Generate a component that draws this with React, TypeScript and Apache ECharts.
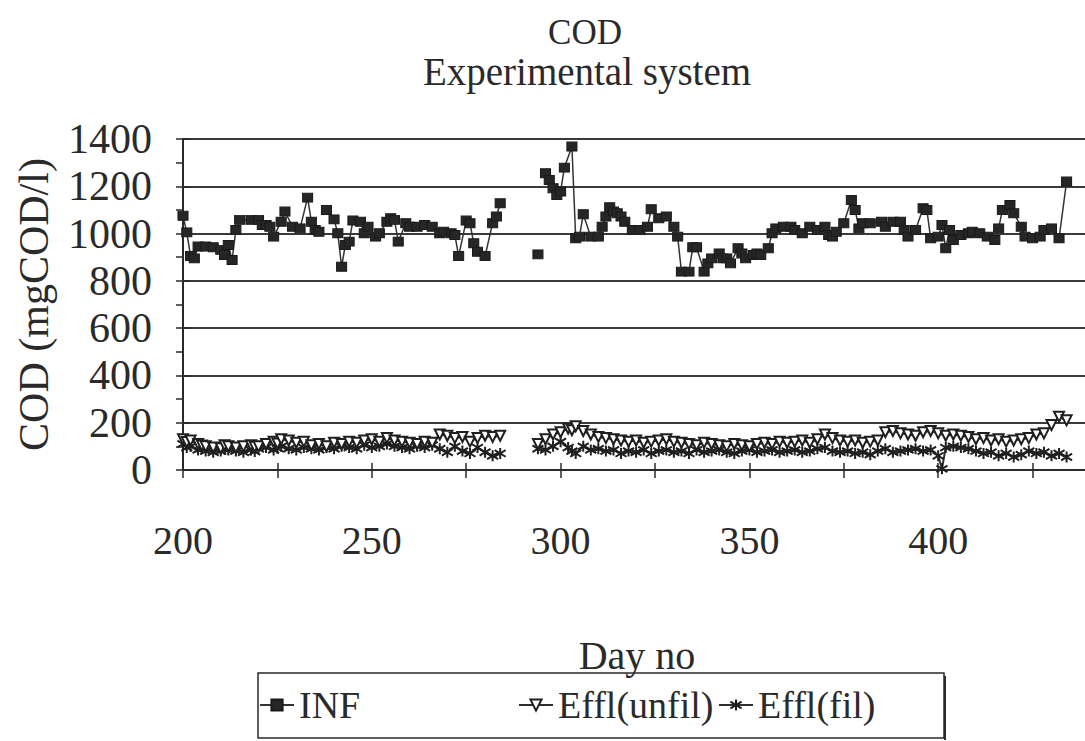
import React, { useEffect, useRef } from "react";
import * as echarts from "echarts";

const FONT = "'Liberation Serif', 'DejaVu Serif', serif";
const INK = "#2a2a2a";

const titleText = "COD";
const subtitleText = "Experimental system";
const xAxisName = "Day no";
const yAxisName = "COD (mgCOD/l)";
const seriesNames = ["INF", "Effl(unfil)", "Effl(fil)"];

// INF (influent) — null marks a break in the line
const infDays = [
  200, 201, 202, 203, 204, 206, 208, 210, 211, 212, 213, 214, 215, 218, 220, 221, 222, 223, 224, 226,
  227, 229, 231, 233, 234, 235, 236, 237, 238, 239, 240, 241, 242, 243, 244, 245, 247, 248, 249, 251,
  252, 254, 255, 256, 257, 259, 260, 262, 264, 266, 268, 269, 271, 272, 273, 275, 276, 277, 278, 280,
  282, 283, 284, 289, 294, 295, 296, 297, 298, 299, 300, 301, 303, 304, 305, 306, 308, 310, 311, 312,
  313, 314, 315, 316, 317, 319, 321, 323, 324, 326, 328, 330, 331, 332, 334, 335, 336, 338, 339, 340,
  342, 343, 344, 345, 347, 348, 349, 351, 352, 353, 355, 356, 357, 359, 361, 362, 364, 366, 368, 370,
  371, 372, 373, 375, 377, 378, 379, 380, 382, 385, 386, 388, 390, 391, 392, 394, 396, 397, 398, 400,
  401, 402, 403, 404, 406, 408, 409, 411, 413, 415, 416, 417, 419, 420, 422, 423, 425, 427, 428, 430,
  432, 434
];
const infValues = [
  1075, 1005, 905, 895, 945, 945, 942, 931, 909, 952, 888, 1015, 1058, 1058, 1058, 1036, 1036, 1029, 987, 1050,
  1093, 1029, 1022, 1152, 1050, 1015, 1008, null, 1100, null, 1060, 1001, 860, 952, 966, 1055, 1050, 1001, 1029, 987,
  1001, 1050, 1065, 1058, 966, 1044, 1029, 1029, 1036, 1029, 1001, 1008, 1001, 994, 905, 1055, 1044, 959, 923, 905,
  1044, 1072, 1128, null, 912, null, 1255, 1227, 1192, 1163, 1178, 1279, 1368, 980, 987, 1082, 987, 987, 1029, 1072,
  1111, 1093, 1086, 1072, 1050, 1015, 1015, 1029, 1103, 1065, 1072, 1029, 987, 839, 839, 942, 942, 839, 874, 895,
  916, 895, 895, 874, 938, 916, 895, 909, 916, 909, 938, 1001, 1022, 1029, 1029, 1015, 1001, 1029, 1015, 1029,
  994, 987, 1008, 1044, 1142, 1100, 1022, 1044, 1044, 1050, 1029, 1050, 1050, 1015, 987, 1015, 1107, 1100, 980, 987,
  1036, 938, 1015, 973, 994, 1001, 1008, 1001, 987, 973, 1022, 1100, 1121, 1086, 1029, 987, 980, 987, 1015, 1022,
  980, 1220
];

// Effluent, unfiltered
const unfilDays = [
  200, 201, 202, 204, 205, 206, 208, 210, 211, 212, 214, 216, 218, 219, 220, 222, 224, 225, 226, 228,
  230, 232, 234, 236, 238, 240, 242, 244, 246, 248, 250, 252, 254, 256, 258, 260, 262, 264, 266, 268,
  270, 272, 274, 276, 278, 280, 282, 284, 289, 294, 296, 298, 300, 302, 303, 304, 306, 308, 310, 312,
  314, 316, 318, 320, 322, 324, 326, 328, 330, 332, 334, 336, 338, 340, 342, 344, 346, 348, 350, 352,
  354, 356, 358, 360, 362, 364, 366, 368, 370, 372, 374, 376, 378, 380, 382, 384, 386, 388, 390, 392,
  394, 396, 398, 400, 402, 404, 406, 408, 410, 412, 414, 416, 418, 420, 422, 424, 426, 428, 430, 432,
  434
];
const unfilValues = [
  130, 118, 125, 110, 104, 100, 95, 92, 105, 100, 95, 100, 105, 98, 100, 110, 120, 112, 130, 125,
  115, 120, 105, 110, 100, 115, 110, 120, 115, 125, 130, 120, 135, 125, 120, 115, 110, 120, 115, 150,
  145, 135, 140, 120, 135, 145, 140, 145, null, 110, 130, 150, 160, 175, 168, 185, 165, 150, 140, 135,
  130, 125, 120, 125, 115, 120, 125, 130, 120, 115, 110, 105, 115, 110, 105, 100, 110, 105, 100, 110,
  115, 110, 120, 115, 120, 125, 115, 130, 150, 135, 125, 120, 125, 115, 120, 125, 160, 165, 155, 150,
  145, 160, 165, 155, 145, 150, 145, 140, 130, 135, 125, 130, 120, 125, 130, 135, 150, 155, 190, 225,
  210
];

// Effluent, filtered
const filDays = [
  200, 201, 202, 204, 205, 206, 208, 210, 211, 212, 214, 216, 218, 219, 220, 222, 224, 225, 226, 228,
  230, 232, 234, 236, 238, 240, 242, 244, 246, 248, 250, 252, 254, 256, 258, 260, 262, 264, 266, 268,
  270, 272, 274, 276, 278, 280, 282, 284, 289, 294, 296, 298, 300, 302, 303, 304, 306, 308, 310, 312,
  314, 316, 318, 320, 322, 324, 326, 328, 330, 332, 334, 336, 338, 340, 342, 344, 346, 348, 350, 352,
  354, 356, 358, 360, 362, 364, 366, 368, 370, 372, 374, 376, 378, 380, 382, 384, 386, 388, 390, 392,
  394, 396, 398, 400, 401, 402, 404, 406, 408, 410, 412, 414, 416, 418, 420, 422, 424, 426, 428, 430,
  432, 434
];
const filValues = [
  110, 95, 100, 85, 90, 80, 75, 80, 88, 85, 80, 75, 85, 78, 90, 95, 85, 92, 100, 90,
  85, 95, 90, 85, 95, 90, 100, 95, 90, 105, 95, 100, 110, 100, 95, 90, 100, 95, 105, 90,
  75, 100, 80, 70, 95, 75, 60, 70, null, 90, 85, 100, 120, 95, 80, 70, 100, 85, 90, 80,
  85, 70, 80, 75, 85, 70, 80, 85, 75, 80, 70, 85, 75, 80, 85, 75, 70, 80, 85, 75,
  80, 85, 75, 80, 85, 75, 80, 90, 95, 80, 75, 80, 70, 75, 65, 80, 90, 75, 80, 85,
  90, 80, 85, 60, 5, 95, 100, 95, 90, 80, 70, 75, 60, 70, 55, 65, 80, 70, 75, 60,
  70, 55
];

const xMin = 200;
const xMax = 450;
const xInterval = 25;
const xLabelStep = 50;
const xLastLabel = 400;
const yMin = 0;
const yMax = 1400;
const yInterval = 200;

const pair = (days: number[], vals: (number | null)[]) => days.map((d, i) => [d, vals[i]]);

export default function App() {
  const ref = useRef<HTMLDivElement>(null);
  useEffect(() => {
    if (!ref.current) return;
    const chart = echarts.init(ref.current, undefined, { renderer: "svg" });
    const tickLabelStyle = { color: INK, fontFamily: FONT, fontSize: 40 };
    const legendBase = {
      top: 686,
      padding: 0,
      itemWidth: 34,
      itemHeight: 14,
      textStyle: { color: INK, fontFamily: FONT, fontSize: 38 },
      selectedMode: false as const,
    };
    chart.setOption({
      animation: false,
      backgroundColor: "#ffffff",
      textStyle: { fontFamily: FONT },
      grid: { left: 183, top: 139, width: 944, height: 331, containLabel: false },
      graphic: [
        {
          type: "text",
          x: 585,
          y: 32,
          style: { text: titleText, fill: INK, font: `35px ${FONT}`, textAlign: "center", textVerticalAlign: "middle" },
        },
        {
          type: "text",
          x: 587,
          y: 71,
          style: { text: subtitleText, fill: INK, font: `39px ${FONT}`, textAlign: "center", textVerticalAlign: "middle" },
        },
        {
          type: "text",
          x: 637,
          y: 655,
          style: { text: xAxisName, fill: INK, font: `40px ${FONT}`, textAlign: "center", textVerticalAlign: "middle" },
        },
        {
          type: "rect",
          shape: { x: 258, y: 673, width: 686, height: 65 },
          style: { fill: "none", stroke: INK, lineWidth: 1.5 },
        },
        {
          type: "line",
          shape: { x1: 945, y1: 676, x2: 945, y2: 740 },
          style: { stroke: INK, lineWidth: 2 },
        },
      ],
      legend: [
        { ...legendBase, left: 259, data: [seriesNames[0]] },
        { ...legendBase, left: 518, data: [seriesNames[1]] },
        { ...legendBase, left: 718, data: [seriesNames[2]] },
      ],
      xAxis: [
        {
          type: "value",
          position: "bottom",
          min: xMin,
          max: xMax,
          interval: xInterval,
          axisLine: { show: true, onZero: false, lineStyle: { color: INK, width: 2 } },
          axisTick: { show: true, length: 8, lineStyle: { color: INK, width: 1.5 } },
          axisLabel: {
            ...tickLabelStyle,
            margin: 50,
            formatter: (v: number) => (v % xLabelStep === 0 && v <= xLastLabel ? String(v) : ""),
          },
          splitLine: { show: false },
        },
        {
          type: "value",
          position: "bottom",
          min: xMin,
          max: xMax,
          interval: xInterval,
          axisLine: { show: false, onZero: false },
          axisTick: { show: true, inside: true, length: 7, lineStyle: { color: INK, width: 1.5 } },
          axisLabel: { show: false },
          splitLine: { show: false },
        },
      ],
      yAxis: [
        {
          type: "value",
          position: "left",
          min: yMin,
          max: yMax,
          interval: yInterval,
          name: yAxisName,
          nameLocation: "middle",
          nameRotate: 90,
          nameGap: 128,
          nameTextStyle: { color: INK, fontFamily: FONT, fontSize: 42 },
          axisLine: { show: true, lineStyle: { color: INK, width: 2 } },
          axisTick: { show: true, length: 7, lineStyle: { color: INK, width: 1.5 } },
          minorTick: { show: true, splitNumber: 2, length: 7, lineStyle: { color: INK, width: 1.5 } },
          axisLabel: { ...tickLabelStyle, fontSize: 42, margin: 31, formatter: (v: number) => String(v) },
          splitLine: { show: true, lineStyle: { color: "#3a3a3a", width: 2 } },
        },
        {
          type: "value",
          position: "left",
          min: yMin,
          max: yMax,
          interval: yInterval,
          axisLine: { show: false },
          axisTick: { show: true, inside: true, length: 7, lineStyle: { color: INK, width: 1.5 } },
          axisLabel: { show: false },
          splitLine: { show: false },
        },
      ],
      series: [
        {
          name: seriesNames[2],
          type: "line",
          data: pair(filDays, filValues),
          connectNulls: false,
          symbol: "path://M5,0L5,10M0,2L10,8M10,2L0,8",
          symbolSize: 11,
          showAllSymbol: true,
          lineStyle: { color: "#2e2e2e", width: 2 },
          itemStyle: { color: "#2e2e2e", borderColor: "#1f1f1f", borderWidth: 2 },
          z: 2,
        },
        {
          name: seriesNames[1],
          type: "line",
          data: pair(unfilDays, unfilValues),
          connectNulls: false,
          symbol: "triangle",
          symbolRotate: 180,
          symbolSize: 10,
          showAllSymbol: true,
          lineStyle: { color: "#2e2e2e", width: 2 },
          itemStyle: { color: "#ffffff", borderColor: "#1f1f1f", borderWidth: 2 },
          z: 3,
        },
        {
          name: seriesNames[0],
          type: "line",
          data: pair(infDays, infValues),
          connectNulls: false,
          symbol: "rect",
          symbolSize: [10, 9],
          showAllSymbol: true,
          lineStyle: { color: "#333", width: 1.5 },
          itemStyle: { color: "#262626", borderColor: "#1a1a1a", borderWidth: 1 },
          z: 4,
        },
      ],
    });
    return () => chart.dispose();
  }, []);
  return (
    <div style={{ position: "absolute", left: 0, top: 0, width: 1085, height: 741, overflow: "hidden", background: "#fff" }}>
      <div ref={ref} style={{ width: 1140, height: 741 }} />
    </div>
  );
}
